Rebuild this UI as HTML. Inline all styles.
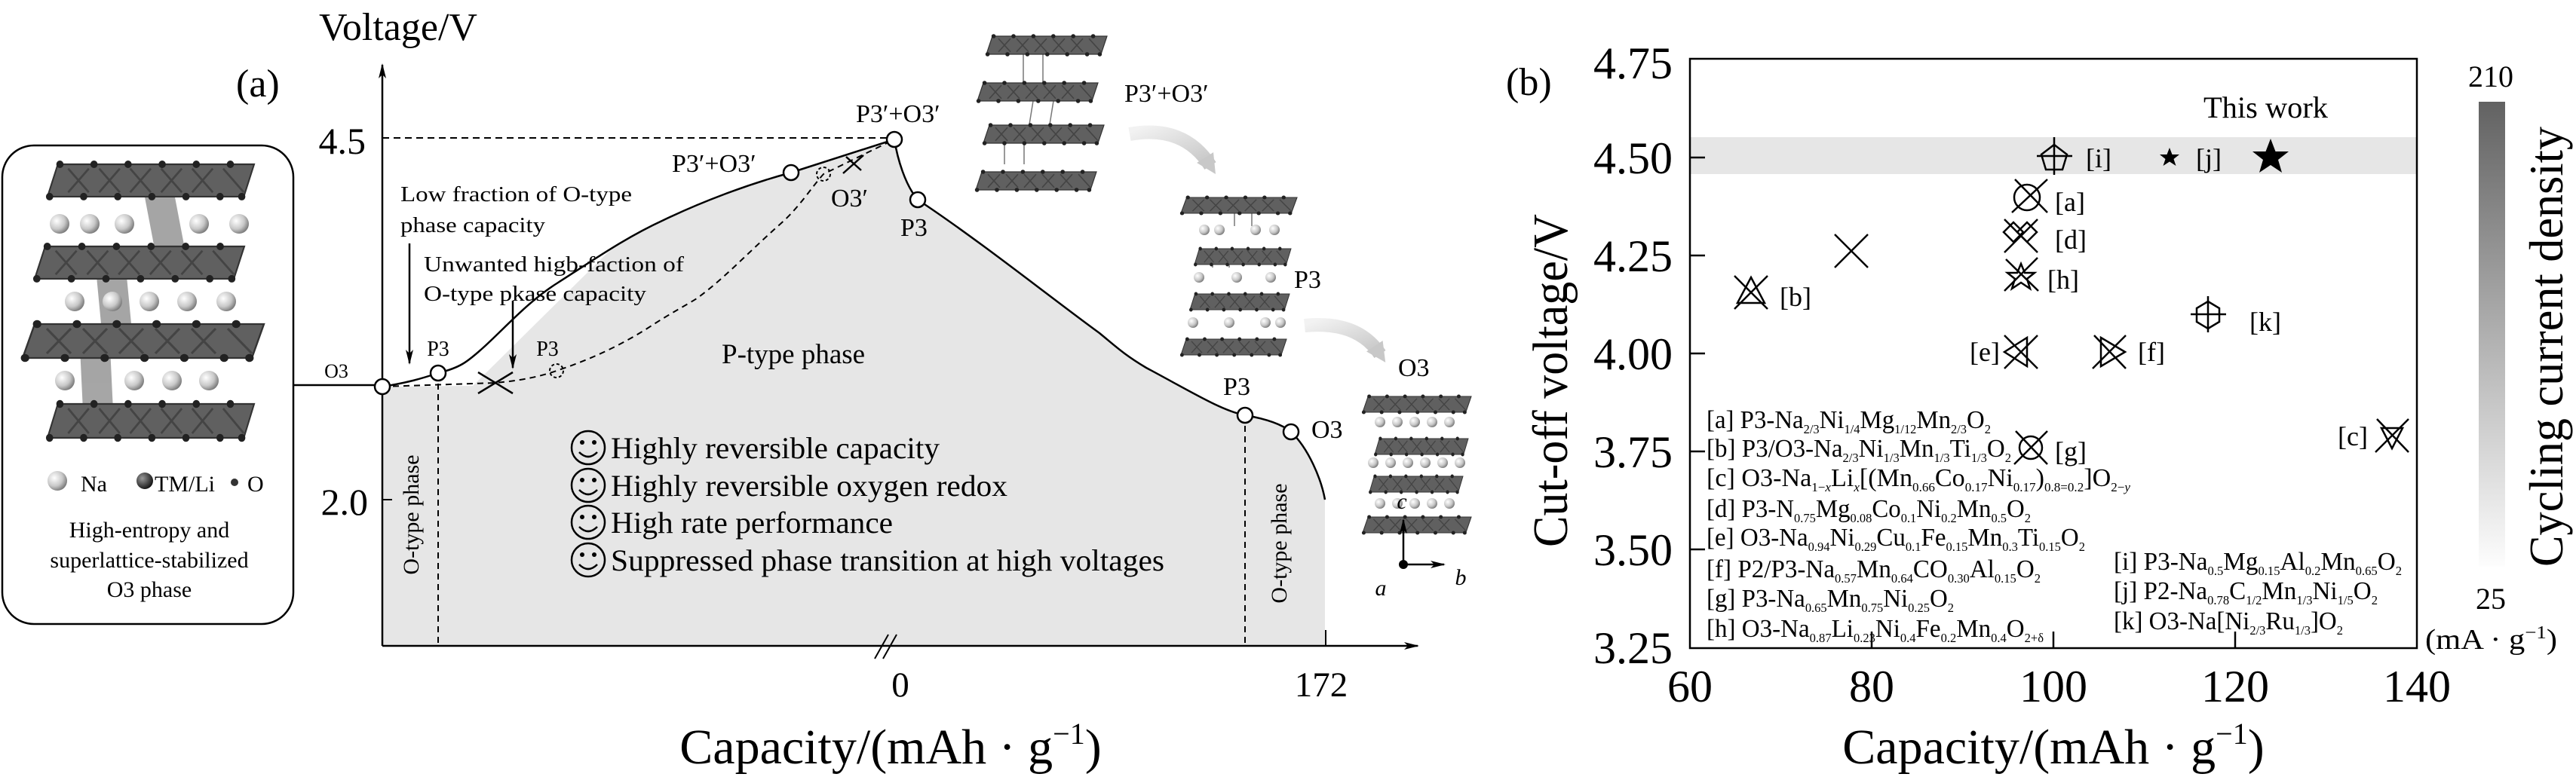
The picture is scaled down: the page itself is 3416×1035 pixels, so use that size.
<!DOCTYPE html>
<html><head><meta charset="utf-8"><style>
html,body{margin:0;padding:0;background:#fff}
svg{display:block}
text{font-family:"Liberation Serif","DejaVu Serif",serif;fill:#000}
.s{font-size:17px}
</style></head><body>
<svg width="3416" height="1035" viewBox="0 0 3416 1035" xmlns="http://www.w3.org/2000/svg">
<defs>
<radialGradient id="sph" cx="0.35" cy="0.35" r="0.7"><stop offset="0" stop-color="#fff"/><stop offset="0.6" stop-color="#c8c8c8"/><stop offset="1" stop-color="#777"/></radialGradient>
<radialGradient id="dsph" cx="0.35" cy="0.35" r="0.7"><stop offset="0" stop-color="#999"/><stop offset="1" stop-color="#111"/></radialGradient>
<linearGradient id="cb" x1="0" y1="0" x2="0" y2="1"><stop offset="0" stop-color="#626262"/><stop offset="1" stop-color="#fdfdfd"/></linearGradient>
<linearGradient id="ga" x1="0" y1="0" x2="1" y2="1"><stop offset="0" stop-color="#f2f2f2"/><stop offset="1" stop-color="#c4c4c4"/></linearGradient>
<g id="lay">
<polygon points="10,0 200,0 190,30 0,30" fill="#606060" stroke="#333" stroke-width="1.5"/>
<path d="M20,4 L40,26 M50,4 L70,26 M80,4 L100,26 M110,4 L130,26 M140,4 L160,26 M170,4 L190,26 M40,4 L20,26 M70,4 L50,26 M100,4 L80,26 M130,4 L110,26 M160,4 L140,26" stroke="#444" stroke-width="2"/>
<g fill="#222"><circle cx="12" cy="0" r="3.5"/><circle cx="45" cy="0" r="3.5"/><circle cx="78" cy="0" r="3.5"/><circle cx="111" cy="0" r="3.5"/><circle cx="144" cy="0" r="3.5"/><circle cx="177" cy="0" r="3.5"/><circle cx="2" cy="30" r="3.5"/><circle cx="35" cy="30" r="3.5"/><circle cx="68" cy="30" r="3.5"/><circle cx="101" cy="30" r="3.5"/><circle cx="134" cy="30" r="3.5"/><circle cx="167" cy="30" r="3.5"/><circle cx="188" cy="30" r="3.5"/></g>
</g>
<marker id="ar" viewBox="0 0 20 10" refX="18" refY="5" markerWidth="20" markerHeight="10" markerUnits="userSpaceOnUse" orient="auto"><path d="M0,0 L20,5 L0,10 L5,5 Z" fill="#000"/></marker>
<marker id="gar" viewBox="0 0 10 10" refX="5" refY="5" markerWidth="26" markerHeight="26" markerUnits="userSpaceOnUse" orient="auto"><path d="M0,0 L10,5 L0,10 Z" fill="#c8c8c8"/></marker>
</defs>

<!-- ===== Panel (a) ===== -->
<text x="528" y="53" font-size="52" text-anchor="middle">Voltage/V</text>
<text x="313" y="128" font-size="52">(a)</text>

<rect x="3" y="193" width="386" height="635" rx="42" fill="#fff" stroke="#000" stroke-width="2.5"/>
<g opacity="0.75"><polygon points="185,225 225,225 245,330 205,330" fill="#888"/><polygon points="125,335 165,335 175,440 135,440" fill="#888"/><polygon points="105,440 145,440 150,545 110,545" fill="#888"/></g>
<use href="#lay" transform="translate(63,218) scale(1.37,1.43)"/>
<use href="#lay" transform="translate(46,327) scale(1.39,1.43)"/>
<use href="#lay" transform="translate(30,430) scale(1.6,1.5)"/>
<use href="#lay" transform="translate(63,536) scale(1.37,1.5)"/>
<g fill="url(#sph)"><circle cx="79" cy="297" r="13"/><circle cx="119" cy="297" r="13"/><circle cx="165" cy="297" r="13"/><circle cx="264" cy="297" r="13"/><circle cx="317" cy="297" r="13"/>
<circle cx="99" cy="400" r="13"/><circle cx="149" cy="400" r="13"/><circle cx="198" cy="400" r="13"/><circle cx="248" cy="400" r="13"/><circle cx="300" cy="400" r="13"/>
<circle cx="86" cy="505" r="13"/><circle cx="178" cy="505" r="13"/><circle cx="228" cy="505" r="13"/><circle cx="277" cy="505" r="13"/>
<circle cx="76" cy="638" r="13"/></g>
<circle cx="192" cy="638" r="11" fill="url(#dsph)"/>
<circle cx="311" cy="640" r="5" fill="#333"/>
<text x="107" y="652" font-size="30">Na</text>
<text x="205" y="652" font-size="30">TM/Li</text>
<text x="328" y="652" font-size="30">O</text>
<text x="198" y="713" font-size="30" text-anchor="middle">High-entropy and</text>
<text x="198" y="753" font-size="30" text-anchor="middle">superlattice-stabilized</text>
<text x="198" y="792" font-size="30" text-anchor="middle">O3 phase</text>
<line x1="389" y1="511" x2="507" y2="511" stroke="#000" stroke-width="2.5"/>
<text x="446" y="501" font-size="26" text-anchor="middle">O3</text>

<path d="M507,513 L627,512 L805,336 C830,315 850,304 880,292 C930,268 990,245 1049,229 L1186,185 C1190,210 1200,245 1217,265 C1300,320 1400,400 1458,442 C1480,460 1490,470 1520,488 C1580,520 1620,545 1651,551 C1680,556 1700,563 1712,573 C1735,595 1752,635 1757,663 L1757,857 L507,857 Z" fill="#e6e6e6"/>
<line x1="507" y1="857" x2="507" y2="86" stroke="#000" stroke-width="2.5" marker-end="url(#ar)"/>
<line x1="507" y1="857" x2="1880" y2="857" stroke="#000" stroke-width="2.5" marker-end="url(#ar)"/>
<line x1="1758" y1="836" x2="1758" y2="857" stroke="#000" stroke-width="2"/>
<line x1="507" y1="663" x2="520" y2="663" stroke="#000" stroke-width="2"/>
<line x1="507" y1="183" x2="1186" y2="183" stroke="#000" stroke-width="2" stroke-dasharray="9,6"/>
<path d="M1160,874 L1178,842 M1171,874 L1189,842" stroke="#000" stroke-width="2"/>
<text x="485" y="204" font-size="50" text-anchor="end">4.5</text>
<text x="488" y="683" font-size="50" text-anchor="end">2.0</text>
<text x="1194" y="924" font-size="47" text-anchor="middle">0</text>
<text x="1752" y="924" font-size="47" text-anchor="middle">172</text>
<text x="1181" y="1013" font-size="66" text-anchor="middle">Capacity/(mAh · g<tspan font-size="40" dy="-26">−1</tspan><tspan dy="26">)</tspan></text>

<path d="M507,513 C540,508 560,502 581,495 C610,488 620,480 640,462 C670,435 700,400 740,375 C790,343 830,315 880,292 C930,268 990,245 1049,229 L1186,185 C1190,210 1200,245 1217,265 C1300,320 1400,400 1458,442 C1480,460 1490,470 1520,488 C1580,520 1620,545 1651,551 C1680,556 1700,563 1712,573 C1735,595 1752,635 1757,663" fill="none" stroke="#000" stroke-width="2.5"/>
<path d="M507,513 L657,508 C690,505 715,500 738,492 C780,478 820,460 858,436 C890,415 910,405 924,396 C960,370 990,337 1035,297 C1060,275 1075,250 1092,231 L1186,185" fill="none" stroke="#000" stroke-width="2" stroke-dasharray="8,6"/>
<line x1="581" y1="495" x2="581" y2="857" stroke="#000" stroke-width="2" stroke-dasharray="8,6"/>
<line x1="1651" y1="551" x2="1651" y2="857" stroke="#000" stroke-width="2" stroke-dasharray="8,6"/>
<g fill="#fff" stroke="#000" stroke-width="2.5"><circle cx="507" cy="513" r="10"/><circle cx="581" cy="495" r="10"/><circle cx="1049" cy="229" r="10"/><circle cx="1186" cy="185" r="10"/><circle cx="1217" cy="265" r="10"/><circle cx="1651" cy="551" r="10"/><circle cx="1712" cy="573" r="10"/></g>
<g fill="none" stroke="#000" stroke-width="2" stroke-dasharray="4,3"><circle cx="738" cy="492" r="9"/><circle cx="1092" cy="231" r="9"/></g>
<path d="M634,494 L680,522 M634,522 L680,494 M1118,230 L1145,206 M1122,208 L1142,226" stroke="#000" stroke-width="2.5"/>
<line x1="543" y1="323" x2="543" y2="482" stroke="#000" stroke-width="2.5" marker-end="url(#ar)"/>
<line x1="680" y1="399" x2="680" y2="488" stroke="#000" stroke-width="2.5" marker-end="url(#ar)"/>
<text x="531" y="267" font-size="28" textLength="307" lengthAdjust="spacingAndGlyphs">Low fraction of O-type</text>
<text x="531" y="308" font-size="28" textLength="192" lengthAdjust="spacingAndGlyphs">phase capacity</text>
<text x="562" y="360" font-size="28" textLength="345" lengthAdjust="spacingAndGlyphs">Unwanted higb-faction of</text>
<text x="562" y="399" font-size="28" textLength="295" lengthAdjust="spacingAndGlyphs">O-type pkase capacity</text>
<text x="581" y="472" font-size="28" text-anchor="middle">P3</text>
<text x="726" y="472" font-size="28" text-anchor="middle">P3</text>
<text x="957" y="482" font-size="37">P-type phase</text>
<text x="891" y="228" font-size="34">P3′+O3′</text>
<text x="1135" y="162" font-size="34">P3′+O3′</text>
<text x="1102" y="274" font-size="34">O3′</text>
<text x="1194" y="313" font-size="34">P3</text>
<text x="1640" y="524" font-size="34" text-anchor="middle">P3</text>
<text x="1739" y="581" font-size="34">O3</text>
<text transform="translate(555,683) rotate(-90)" font-size="30" text-anchor="middle">O-type phase</text>
<text transform="translate(1706,721) rotate(-90)" font-size="30" text-anchor="middle">O-type phase</text>
<g fill="none" stroke="#000" stroke-width="2.5">
<circle cx="780" cy="594" r="22"/><circle cx="780" cy="644" r="22"/><circle cx="780" cy="693" r="22"/><circle cx="780" cy="743" r="22"/>
<path d="M768,600 Q780,612 792,600 M768,650 Q780,662 792,650 M768,699 Q780,711 792,699 M768,749 Q780,761 792,749"/></g>
<g fill="#000"><circle cx="772" cy="587" r="3"/><circle cx="788" cy="587" r="3"/><circle cx="772" cy="637" r="3"/><circle cx="788" cy="637" r="3"/><circle cx="772" cy="686" r="3"/><circle cx="788" cy="686" r="3"/><circle cx="772" cy="736" r="3"/><circle cx="788" cy="736" r="3"/></g>
<text x="810" y="608" font-size="40" textLength="436" lengthAdjust="spacingAndGlyphs">Highly reversible capacity</text>
<text x="810" y="658" font-size="40" textLength="526" lengthAdjust="spacingAndGlyphs">Highly reversible oxygen redox</text>
<text x="810" y="707" font-size="40" textLength="374" lengthAdjust="spacingAndGlyphs">High rate performance</text>
<text x="810" y="757" font-size="40" textLength="734" lengthAdjust="spacingAndGlyphs">Suppressed phase transition at high voltages</text>

<g stroke="#777" stroke-width="1.5"><line x1="1357" y1="72" x2="1357" y2="113"/><line x1="1383" y1="72" x2="1383" y2="113"/><line x1="1370" y1="134" x2="1365" y2="165"/><line x1="1397" y1="134" x2="1392" y2="165"/><line x1="1332" y1="190" x2="1332" y2="218"/><line x1="1358" y1="190" x2="1358" y2="218"/></g>
<use href="#lay" transform="translate(1308,48) scale(0.8,0.8)"/>
<use href="#lay" transform="translate(1296,110) scale(0.8,0.8)"/>
<use href="#lay" transform="translate(1304,166) scale(0.8,0.8)"/>
<use href="#lay" transform="translate(1294,228) scale(0.8,0.8)"/>
<text x="1491" y="135" font-size="34">P3′+O3′</text>
<path d="M1498,178 Q1570,165 1605,220" fill="none" stroke="url(#ga)" stroke-width="18" marker-end="url(#gar)"/>
<g stroke="#777" stroke-width="1.5"><line x1="1637" y1="280" x2="1637" y2="300"/><line x1="1660" y1="280" x2="1660" y2="300"/><line x1="1608" y1="340" x2="1608" y2="355"/><line x1="1630" y1="340" x2="1630" y2="355"/></g>
<use href="#lay" transform="translate(1566,262) scale(0.77,0.7)"/>
<use href="#lay" transform="translate(1584,330) scale(0.64,0.7)"/>
<use href="#lay" transform="translate(1578,390) scale(0.66,0.7)"/>
<use href="#lay" transform="translate(1566,450) scale(0.7,0.7)"/>
<g fill="url(#sph)"><circle cx="1597" cy="305" r="7"/><circle cx="1617" cy="305" r="7"/><circle cx="1665" cy="305" r="7"/><circle cx="1690" cy="305" r="7"/><circle cx="1590" cy="368" r="7"/><circle cx="1640" cy="368" r="7"/><circle cx="1685" cy="368" r="7"/><circle cx="1582" cy="428" r="7"/><circle cx="1630" cy="428" r="7"/><circle cx="1678" cy="428" r="7"/><circle cx="1698" cy="428" r="7"/></g>
<text x="1716" y="382" font-size="34">P3</text>
<path d="M1730,432 Q1800,425 1830,470" fill="none" stroke="url(#ga)" stroke-width="18" marker-end="url(#gar)"/>
<text x="1854" y="499" font-size="34">O3</text>
<use href="#lay" transform="translate(1807,526) scale(0.72,0.7)"/>
<use href="#lay" transform="translate(1823,582) scale(0.62,0.7)"/>
<use href="#lay" transform="translate(1816,632) scale(0.62,0.7)"/>
<use href="#lay" transform="translate(1807,686) scale(0.72,0.7)"/>
<g fill="url(#sph)"><circle cx="1830" cy="560" r="7"/><circle cx="1853" cy="560" r="7"/><circle cx="1876" cy="560" r="7"/><circle cx="1899" cy="560" r="7"/><circle cx="1922" cy="560" r="7"/><circle cx="1821" cy="614" r="7"/><circle cx="1844" cy="614" r="7"/><circle cx="1867" cy="614" r="7"/><circle cx="1890" cy="614" r="7"/><circle cx="1913" cy="614" r="7"/><circle cx="1936" cy="614" r="7"/><circle cx="1830" cy="668" r="7"/><circle cx="1853" cy="668" r="7"/><circle cx="1876" cy="668" r="7"/><circle cx="1899" cy="668" r="7"/><circle cx="1922" cy="668" r="7"/></g>
<line x1="1861" y1="749" x2="1861" y2="690" stroke="#000" stroke-width="2.5" marker-end="url(#ar)"/>
<line x1="1861" y1="749" x2="1915" y2="749" stroke="#000" stroke-width="2.5" marker-end="url(#ar)"/>
<circle cx="1861" cy="749" r="6" fill="#000"/>
<text x="1859" y="675" font-size="30" font-style="italic" text-anchor="middle">c</text>
<text x="1937" y="776" font-size="30" font-style="italic" text-anchor="middle">b</text>
<text x="1831" y="790" font-size="30" font-style="italic" text-anchor="middle">a</text>

<!-- ===== Panel (b) ===== -->
<text x="1997" y="126" font-size="52">(b)</text>
<rect x="2241" y="182" width="964" height="49" fill="#e6e6e6"/>
<rect x="2241" y="78" width="964" height="782" fill="none" stroke="#000" stroke-width="2.5"/>
<g stroke="#000" stroke-width="2.5"><line x1="2241" y1="209" x2="2261" y2="209"/><line x1="2241" y1="339" x2="2261" y2="339"/><line x1="2241" y1="469" x2="2261" y2="469"/><line x1="2241" y1="599" x2="2261" y2="599"/><line x1="2241" y1="729" x2="2261" y2="729"/>
<line x1="2482" y1="860" x2="2482" y2="838"/><line x1="2723" y1="860" x2="2723" y2="838"/><line x1="2964" y1="860" x2="2964" y2="838"/></g>
<g font-size="60" text-anchor="end"><text x="2218" y="104">4.75</text><text x="2218" y="230">4.50</text><text x="2218" y="360">4.25</text><text x="2218" y="490">4.00</text><text x="2218" y="620">3.75</text><text x="2218" y="750">3.50</text><text x="2218" y="880">3.25</text></g>
<g font-size="60" text-anchor="middle"><text x="2241" y="931">60</text><text x="2482" y="931">80</text><text x="2723" y="931">100</text><text x="2964" y="931">120</text><text x="3205" y="931">140</text></g>
<text x="2723" y="1013" font-size="66" text-anchor="middle">Capacity/(mAh · g<tspan font-size="40" dy="-26">−1</tspan><tspan dy="26">)</tspan></text>
<text transform="translate(2078,505) rotate(-90)" font-size="66" text-anchor="middle" textLength="442" lengthAdjust="spacingAndGlyphs">Cut-off  voltage/V</text>
<text x="2922" y="156" font-size="40" textLength="165" lengthAdjust="spacingAndGlyphs">This work</text>

<g fill="none" stroke="#000" stroke-width="2.5">
<polygon points="2724,192 2741,205 2735,225 2713,225 2707,205"/><line x1="2701" y1="207" x2="2748" y2="207"/><line x1="2724" y1="182" x2="2724" y2="232"/>
<circle cx="2688" cy="262" r="17"/><line x1="2668" y1="282" x2="2715" y2="238"/><line x1="2672" y1="238" x2="2715" y2="282"/>
<polygon points="2670,295 2683,308 2670,321 2657,308"/><polygon points="2688,295 2701,308 2688,321 2675,308"/><line x1="2658" y1="335" x2="2702" y2="291"/><line x1="2658" y1="291" x2="2702" y2="335"/>
<polygon points="2680,350 2685,362 2698,362 2688,370 2692,383 2680,375 2668,383 2672,370 2662,362 2675,362"/><line x1="2658" y1="386" x2="2702" y2="342"/><line x1="2660" y1="344" x2="2703" y2="386"/>
<line x1="2433" y1="311" x2="2477" y2="355"/><line x1="2433" y1="355" x2="2477" y2="311"/>
<polygon points="2322,368 2340,402 2304,402"/><line x1="2300" y1="410" x2="2344" y2="366"/><line x1="2300" y1="366" x2="2344" y2="410"/>
<polygon points="2928,400 2943,409 2943,427 2928,436 2913,427 2913,409"/><line x1="2905" y1="417" x2="2952" y2="417"/><line x1="2928" y1="393" x2="2928" y2="441"/>
<polygon points="2658,467 2688,448 2688,486"/><line x1="2658" y1="489" x2="2702" y2="445"/><line x1="2658" y1="445" x2="2702" y2="489"/>
<polygon points="2818,467 2786,448 2786,486"/><line x1="2775" y1="489" x2="2819" y2="445"/><line x1="2777" y1="445" x2="2819" y2="489"/>
<circle cx="2693" cy="594" r="15"/><line x1="2671" y1="616" x2="2715" y2="572"/><line x1="2673" y1="572" x2="2715" y2="616"/>
<polygon points="3158,568 3186,568 3172,595"/><line x1="3150" y1="600" x2="3194" y2="556"/><line x1="3152" y1="556" x2="3194" y2="600"/>
</g>
<polygon points="2877,196 2880.5,205 2890,205 2882.5,211 2885.5,220 2877,214.5 2868.5,220 2871.5,211 2864,205 2873.5,205" fill="#000"/>
<polygon points="3011,184 3017.5,201 3035,201 3021,212 3026,229 3011,219 2996,229 3001,212 2987,201 3004.5,201" fill="#000"/>
<g font-size="36">
<text x="2766" y="222">[i]</text><text x="2912" y="222">[j]</text><text x="2725" y="280">[a]</text><text x="2725" y="330">[d]</text><text x="2715" y="383">[h]</text><text x="2360" y="406">[b]</text><text x="2983" y="439">[k]</text><text x="2612" y="479">[e]</text><text x="2835" y="479">[f]</text><text x="2725" y="611">[g]</text><text x="3100" y="591">[c]</text>
</g>

<g font-size="34">
<text x="2263" y="568" textLength="377" lengthAdjust="spacingAndGlyphs">[a] P3-Na<tspan class="s" dy="7">2/3</tspan><tspan dy="-7">Ni</tspan><tspan class="s" dy="7">1/4</tspan><tspan dy="-7">Mg</tspan><tspan class="s" dy="7">1/12</tspan><tspan dy="-7">Mn</tspan><tspan class="s" dy="7">2/3</tspan><tspan dy="-7">O</tspan><tspan class="s" dy="7">2</tspan></text>
<text x="2263" y="606" textLength="404" lengthAdjust="spacingAndGlyphs">[b] P3/O3-Na<tspan class="s" dy="7">2/3</tspan><tspan dy="-7">Ni</tspan><tspan class="s" dy="7">1/3</tspan><tspan dy="-7">Mn</tspan><tspan class="s" dy="7">1/3</tspan><tspan dy="-7">Ti</tspan><tspan class="s" dy="7">1/3</tspan><tspan dy="-7">O</tspan><tspan class="s" dy="7">2</tspan></text>
<text x="2263" y="645" textLength="562" lengthAdjust="spacingAndGlyphs">[c] O3-Na<tspan class="s" dy="7">1−<tspan font-style="italic">x</tspan></tspan><tspan dy="-7">Li</tspan><tspan font-style="italic" class="s" dy="7">x</tspan><tspan dy="-7">[(Mn</tspan><tspan class="s" dy="7">0.66</tspan><tspan dy="-7">Co</tspan><tspan class="s" dy="7">0.17</tspan><tspan dy="-7">Ni</tspan><tspan class="s" dy="7">0.17</tspan><tspan dy="-7">)</tspan><tspan class="s" dy="7">0.8=0.2</tspan><tspan dy="-7">]O</tspan><tspan class="s" dy="7">2−<tspan font-style="italic">y</tspan></tspan></text>
<text x="2263" y="686" textLength="430" lengthAdjust="spacingAndGlyphs">[d] P3-N<tspan class="s" dy="7">0.75</tspan><tspan dy="-7">Mg</tspan><tspan class="s" dy="7">0.08</tspan><tspan dy="-7">Co</tspan><tspan class="s" dy="7">0.1</tspan><tspan dy="-7">Ni</tspan><tspan class="s" dy="7">0.2</tspan><tspan dy="-7">Mn</tspan><tspan class="s" dy="7">0.5</tspan><tspan dy="-7">O</tspan><tspan class="s" dy="7">2</tspan></text>
<text x="2263" y="724" textLength="502" lengthAdjust="spacingAndGlyphs">[e] O3-Na<tspan class="s" dy="7">0.94</tspan><tspan dy="-7">Ni</tspan><tspan class="s" dy="7">0.29</tspan><tspan dy="-7">Cu</tspan><tspan class="s" dy="7">0.1</tspan><tspan dy="-7">Fe</tspan><tspan class="s" dy="7">0.15</tspan><tspan dy="-7">Mn</tspan><tspan class="s" dy="7">0.3</tspan><tspan dy="-7">Ti</tspan><tspan class="s" dy="7">0.15</tspan><tspan dy="-7">O</tspan><tspan class="s" dy="7">2</tspan></text>
<text x="2263" y="766" textLength="443" lengthAdjust="spacingAndGlyphs">[f] P2/P3-Na<tspan class="s" dy="7">0.57</tspan><tspan dy="-7">Mn</tspan><tspan class="s" dy="7">0.64</tspan><tspan dy="-7">CO</tspan><tspan class="s" dy="7">0.30</tspan><tspan dy="-7">Al</tspan><tspan class="s" dy="7">0.15</tspan><tspan dy="-7">O</tspan><tspan class="s" dy="7">2</tspan></text>
<text x="2263" y="805" textLength="328" lengthAdjust="spacingAndGlyphs">[g] P3-Na<tspan class="s" dy="7">0.65</tspan><tspan dy="-7">Mn</tspan><tspan class="s" dy="7">0.75</tspan><tspan dy="-7">Ni</tspan><tspan class="s" dy="7">0.25</tspan><tspan dy="-7">O</tspan><tspan class="s" dy="7">2</tspan></text>
<text x="2263" y="845" textLength="447" lengthAdjust="spacingAndGlyphs">[h] O3-Na<tspan class="s" dy="7">0.87</tspan><tspan dy="-7">Li</tspan><tspan class="s" dy="7">0.23</tspan><tspan dy="-7">Ni</tspan><tspan class="s" dy="7">0.4</tspan><tspan dy="-7">Fe</tspan><tspan class="s" dy="7">0.2</tspan><tspan dy="-7">Mn</tspan><tspan class="s" dy="7">0.4</tspan><tspan dy="-7">O</tspan><tspan class="s" dy="7">2+δ</tspan></text>
<text x="2803" y="756" textLength="382" lengthAdjust="spacingAndGlyphs">[i] P3-Na<tspan class="s" dy="7">0.5</tspan><tspan dy="-7">Mg</tspan><tspan class="s" dy="7">0.15</tspan><tspan dy="-7">Al</tspan><tspan class="s" dy="7">0.2</tspan><tspan dy="-7">Mn</tspan><tspan class="s" dy="7">0.65</tspan><tspan dy="-7">O</tspan><tspan class="s" dy="7">2</tspan></text>
<text x="2803" y="795" textLength="350" lengthAdjust="spacingAndGlyphs">[j] P2-Na<tspan class="s" dy="7">0.78</tspan><tspan dy="-7">C</tspan><tspan class="s" dy="7">1/2</tspan><tspan dy="-7">Mn</tspan><tspan class="s" dy="7">1/3</tspan><tspan dy="-7">Ni</tspan><tspan class="s" dy="7">1/5</tspan><tspan dy="-7">O</tspan><tspan class="s" dy="7">2</tspan></text>
<text x="2803" y="835" textLength="304" lengthAdjust="spacingAndGlyphs">[k] O3-Na[Ni<tspan class="s" dy="7">2/3</tspan><tspan dy="-7">Ru</tspan><tspan class="s" dy="7">1/3</tspan><tspan dy="-7">]O</tspan><tspan class="s" dy="7">2</tspan></text>
</g>

<rect x="3287" y="135" width="35" height="617" fill="url(#cb)"/>
<text x="3303" y="115" font-size="40" text-anchor="middle">210</text>
<text x="3303" y="808" font-size="40" text-anchor="middle">25</text>
<text x="3216" y="861" font-size="38" textLength="175" lengthAdjust="spacingAndGlyphs">(mA · g<tspan font-size="24" dy="-14">−1</tspan><tspan dy="14">)</tspan></text>
<text transform="translate(3398,460) rotate(-90)" font-size="64" font-family="DejaVu Sans" text-anchor="middle" textLength="584" lengthAdjust="spacingAndGlyphs">Cycling current density</text>
</svg>
</body></html>
